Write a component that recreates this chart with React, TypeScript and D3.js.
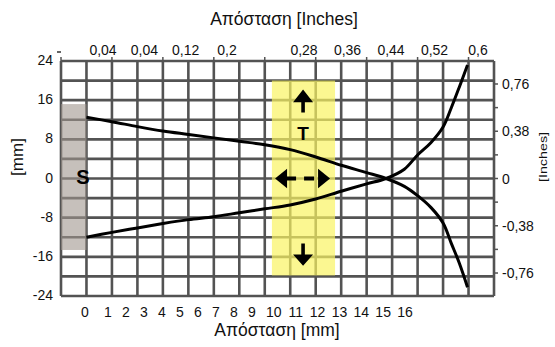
import * as d3 from 'd3';

// distance along the part, mm
const distMm = [0, 1.25, 2.5, 3.75, 5, 6.25, 7.5, 8.75, 10, 11.25, 12.5, 13.75, 14.7, 15.6, 16.25, 16.9, 17.5, 17.9, 18.3, 18.7];
// upper curve (falls through the crossing), mm
const upperMm = [12.5, 11.6, 10.6, 9.7, 9, 8.3, 7.6, 6.9, 5.9, 4.4, 2.7, 1.2, 0, -1.6, -3.5, -5.9, -9.1, -13.2, -17.3, -22.2];
// lower curve (rises through the crossing), mm
const lowerMm = [-12, -11, -10.1, -9.2, -8.4, -7.8, -7, -6.2, -5.4, -4.2, -2.6, -1.1, 0, 1.9, 4.8, 7.3, 10.5, 14.4, 18.7, 23.2];

const leftTicks = [24, 16, 8, 0, -8, -16, -24];
const rightTicks = [0.76, 0.38, 0, -0.38, -0.76];
const rightTickLabels = ['0,76', '0,38', '0', '-0,38', '-0,76'];
const rightMinor = [0.76, 0.57, 0.38, 0.19, 0, -0.19, -0.38, -0.57, -0.76];
const topLabels = ['0,04', '0,04', '0,12', '0,2', '0,28', '0,36', '0,44', '0,52', '0,6'];
const bottomLabels = ['0', '1', '2', '3', '4', '5', '6', '7', '8', '9', '10', '11', '12', '13', '14', '15', '16'];

// shaded zones, mm
const sZone = { x0: -1.25, x1: 0, y0: -14.6, y1: 15.2 };
const tZone = { x0: 9.1, x1: 12.2, y0: -19.8, y1: 20 };

export default function App() {
  const width = 555;
  const height = 347;
  const left = 61;
  const right = 494;
  const top = 61;
  const bottom = 296;

  const x = d3.scaleLinear().domain([-1.25, 20]).range([left, right]);
  const y = d3.scaleLinear().domain([-24, 24]).range([bottom, top]);

  const xGrid = d3.range(0, 18).map((i) => -1.25 + i * 1.25);
  const yGrid = d3.range(-24, 25, 4);
  const topTickX = xGrid.filter((_, i) => i % 2 === 0);

  // label placement along the printed axes (labels are not evenly spaced)
  const topPos = d3.scaleLinear().domain([0, 3, 4, 8]).range([103, 227, 304, 478]);
  const bottomPos = d3.scaleLinear().domain([0, 1, 9, 16]).range([85, 108, 252, 405]);

  const line = d3
    .line<number>()
    .x((_, i) => x(distMm[i]))
    .y((d) => y(d))
    .curve(d3.curveCatmullRom.alpha(0.5));

  const gridColor = '#535353';
  const font = 'Arial, "Liberation Sans", sans-serif';
  const ax = x(10.63);

  return (
    <svg
      width={width}
      height={height}
      viewBox={`0 0 ${width} ${height}`}
      style={{ position: 'absolute', left: 0, top: 0, background: '#fff' }}
      fontFamily={font}
    >
      <text x={284} y={25} textAnchor="middle" fontSize={17.5} fill="#111">
        Απόσταση [Inches]
      </text>

      {xGrid.map((v) => (
        <line key={`vx${v}`} x1={x(v)} x2={x(v)} y1={top} y2={bottom} stroke={gridColor} strokeWidth={2.6} />
      ))}
      {yGrid.map((v) => (
        <line key={`hy${v}`} x1={left} x2={right} y1={y(v)} y2={y(v)} stroke={gridColor} strokeWidth={2.6} />
      ))}

      <rect
        x={x(sZone.x0)}
        y={y(sZone.y1)}
        width={x(sZone.x1) - x(sZone.x0)}
        height={y(sZone.y0) - y(sZone.y1)}
        fill="#a0968e"
        opacity={0.6}
      />
      <rect
        x={x(tZone.x0)}
        y={y(tZone.y1)}
        width={x(tZone.x1) - x(tZone.x0)}
        height={y(tZone.y0) - y(tZone.y1)}
        fill="#f9f362"
        opacity={0.7}
      />

      {topTickX.map((v) => (
        <line key={`tt${v}`} x1={x(v)} x2={x(v)} y1={top - 4} y2={top} stroke={gridColor} strokeWidth={1.5} />
      ))}
      <line x1={57} x2={61} y1={52} y2={52} stroke="#333" strokeWidth={1.5} />
      {rightMinor.map((v) => (
        <line key={`rm${v}`} x1={right} x2={right + 4} y1={y(v * 25.4)} y2={y(v * 25.4)} stroke={gridColor} strokeWidth={1.5} />
      ))}

      <path d={line(upperMm) ?? ''} fill="none" stroke="#000" strokeWidth={3} />
      <path d={line(lowerMm) ?? ''} fill="none" stroke="#000" strokeWidth={3} />

      {/* arrows in the T zone */}
      <path
        d={`M${ax},${y(18.2)} L${ax + 10},${y(15.6)} L${ax + 1.8},${y(15.6)} L${ax + 1.8},${y(13.5)} L${ax - 1.8},${y(13.5)} L${ax - 1.8},${y(15.6)} L${ax - 10},${y(15.6)} Z`}
        fill="#000"
      />
      <path
        d={`M${ax},${y(-17.8)} L${ax + 10},${y(-15.5)} L${ax + 1.8},${y(-15.5)} L${ax + 1.8},${y(-13.3)} L${ax - 1.8},${y(-13.3)} L${ax - 1.8},${y(-15.5)} L${ax - 10},${y(-15.5)} Z`}
        fill="#000"
      />
      <path d={`M${ax - 28},${y(0)} L${ax - 16},${y(-2)} L${ax - 16},${y(2)} Z`} fill="#000" />
      <path d={`M${ax + 27},${y(0)} L${ax + 15},${y(-2)} L${ax + 15},${y(2)} Z`} fill="#000" />
      <line x1={ax - 17} x2={ax + 16} y1={y(0)} y2={y(0)} stroke="#000" strokeWidth={4} strokeDasharray="10 8" />

      <text x={ax} y={140} textAnchor="middle" fontSize={19} fontWeight="bold" fill="#000">
        T
      </text>
      <text x={83} y={y(0) + 5} textAnchor="middle" fontSize={20} fontWeight="bold" fill="#000">
        S
      </text>

      {leftTicks.map((v) => (
        <text key={`lt${v}`} x={53} y={y(v) + 4} textAnchor="end" fontSize={14} fill="#111">
          {v}
        </text>
      ))}
      {rightTicks.map((v, i) => (
        <text key={`rt${v}`} x={502} y={y(v * 25.4) + 5} fontSize={14} fill="#111">
          {rightTickLabels[i]}
        </text>
      ))}
      {topLabels.map((t, i) => (
        <text key={`tl${i}`} x={topPos(i)} y={55} textAnchor="middle" fontSize={14} fill="#111">
          {t}
        </text>
      ))}
      {bottomLabels.map((t, i) => (
        <text key={`bl${i}`} x={bottomPos(i)} y={317} textAnchor="middle" fontSize={14} fill="#111">
          {t}
        </text>
      ))}

      <text x={277} y={336} textAnchor="middle" fontSize={17.5} fill="#111">
        Απόσταση [mm]
      </text>
      <text transform="translate(23,157) rotate(-90)" textAnchor="middle" fontSize={17} fill="#111">
        [mm]
      </text>
      <text
        transform="translate(547,157) rotate(-90)"
        textAnchor="middle"
        fontSize={11}
        textLength={50}
        lengthAdjust="spacingAndGlyphs"
        fill="#111"
      >
        [Inches]
      </text>
    </svg>
  );
}
